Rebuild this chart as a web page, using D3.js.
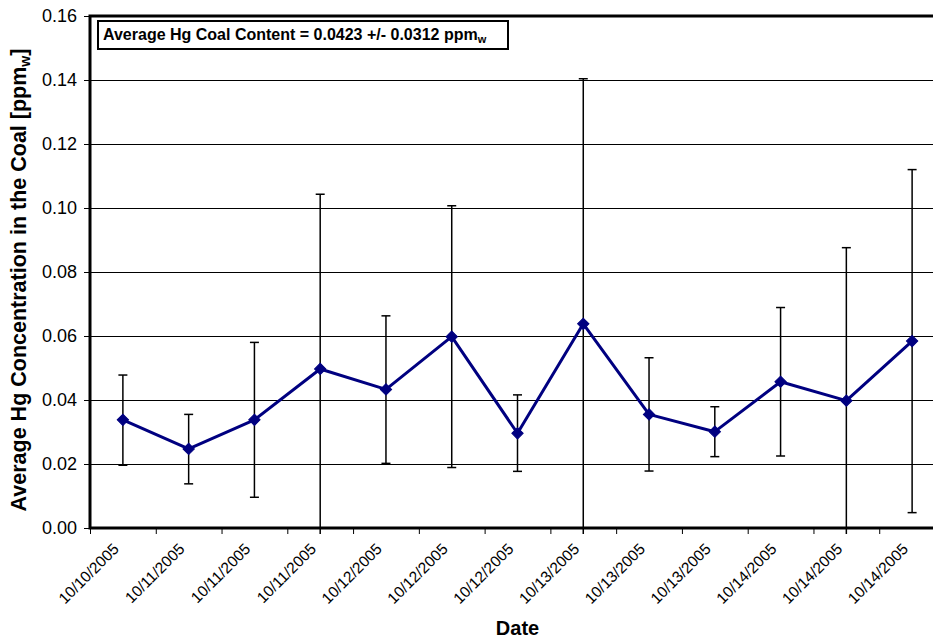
<!DOCTYPE html>
<html>
<head>
<meta charset="utf-8">
<script src="https://cdn.jsdelivr.net/npm/d3@7"></script>
<style>
  html, body { margin: 0; padding: 0; background: #fff; }
  svg { display: block; font-family: Arial, "Liberation Sans", sans-serif; }
</style>
</head>
<body>
<svg id="chart" width="933" height="639"></svg>
<script>
// ---- data ----
const dates = ["10/10/2005","10/11/2005","10/11/2005","10/11/2005","10/12/2005","10/12/2005","10/12/2005","10/13/2005","10/13/2005","10/13/2005","10/14/2005","10/14/2005","10/14/2005"];
const hgValues = [0.0338, 0.0247, 0.0338, 0.0497, 0.0433, 0.0598, 0.0296, 0.0638, 0.0355, 0.0301, 0.0457, 0.0398, 0.0584];
const errUpper = [0.0478, 0.0355, 0.0580, 0.1043, 0.0663, 0.1007, 0.0416, 0.1404, 0.0532, 0.0379, 0.0689, 0.0876, 0.1120];
const errLower = [0.0196, 0.0138, 0.0096, -0.0049, 0.0202, 0.0189, 0.0177, -0.0128, 0.0178, 0.0223, 0.0225, -0.0080, 0.0048];
const yTicks = [0, 0.02, 0.04, 0.06, 0.08, 0.10, 0.12, 0.14, 0.16];
const yLabel = "Average Hg Concentration in the Coal [ppm";
const xLabel = "Date";
const noteText = "Average Hg Coal Content = 0.0423 +/- 0.0312 ppm";

// ---- layout ----
const svg = d3.select("#chart");
const plot = { left: 90, top: 16, right: 945, bottom: 528 };
const n = dates.length;

const xLin = d3.scaleLinear().domain([0, n]).range([plot.left, plot.right]);
const y = d3.scaleLinear().domain([0, 0.16]).range([plot.bottom, plot.top]);

// clip for error bars (slightly below axis, as in reference)
svg.append("defs").append("clipPath").attr("id", "errclip")
  .append("rect").attr("x", plot.left).attr("y", plot.top)
  .attr("width", plot.right - plot.left).attr("height", plot.bottom - plot.top + 6);

// gridlines
svg.append("g").selectAll("line")
  .data(yTicks.filter(t => t > 0 && t < 0.16))
  .join("line")
  .attr("x1", plot.left).attr("x2", plot.right)
  .attr("y1", d => Math.round(y(d)) + 0.5).attr("y2", d => Math.round(y(d)) + 0.5)
  .attr("stroke", "#000").attr("stroke-width", 1);

// Y axis
const yAxis = d3.axisLeft(y).tickValues(yTicks).tickFormat(d3.format(".2f"))
  .tickSizeInner(6).tickSizeOuter(0).tickPadding(7);
const gy = svg.append("g").attr("transform", `translate(${plot.left},0)`).call(yAxis);
gy.select(".domain").remove();
gy.selectAll(".tick line").attr("stroke", "#000").attr("stroke-width", 1);
gy.selectAll(".tick text").attr("font-size", 18).attr("fill", "#000")
  .attr("font-family", "Arial, 'Liberation Sans', sans-serif");

// X axis (ticks at category boundaries)
const xAxis = d3.axisBottom(xLin).tickValues(d3.range(0, n + 1)).tickFormat("")
  .tickSizeInner(6).tickSizeOuter(0);
const gx = svg.append("g").attr("transform", `translate(0,${plot.bottom})`).call(xAxis);
gx.select(".domain").remove();
gx.selectAll(".tick line").attr("stroke", "#000").attr("stroke-width", 1);

// X tick labels, rotated
svg.append("g").selectAll("text")
  .data(dates)
  .join("text")
  .attr("transform", (d, i) => `translate(${xLin(i + 0.5) - 3},${plot.bottom + 22}) rotate(-45)`)
  .attr("text-anchor", "end")
  .attr("font-size", 15.5)
  .attr("fill", "#000")
  .text(d => d);

// plot border (thick)
svg.append("rect")
  .attr("x", plot.left).attr("y", plot.top)
  .attr("width", plot.right - plot.left).attr("height", plot.bottom - plot.top)
  .attr("fill", "none").attr("stroke", "#000").attr("stroke-width", 3);

// error bars
const eg = svg.append("g").attr("clip-path", "url(#errclip)");
const capW = 4.5;
hgValues.forEach((v, i) => {
  const cx = xLin(i + 0.5);
  eg.append("line").attr("x1", cx).attr("x2", cx)
    .attr("y1", y(errUpper[i])).attr("y2", y(errLower[i]))
    .attr("stroke", "#000").attr("stroke-width", 1.5);
  eg.append("line").attr("x1", cx - capW).attr("x2", cx + capW)
    .attr("y1", y(errUpper[i])).attr("y2", y(errUpper[i]))
    .attr("stroke", "#000").attr("stroke-width", 1.5);
  eg.append("line").attr("x1", cx - capW).attr("x2", cx + capW)
    .attr("y1", y(errLower[i])).attr("y2", y(errLower[i]))
    .attr("stroke", "#000").attr("stroke-width", 1.5);
});

// series line
const line = d3.line().x((d, i) => xLin(i + 0.5)).y(d => y(d));
svg.append("path").datum(hgValues)
  .attr("d", line).attr("fill", "none")
  .attr("stroke", "#000080").attr("stroke-width", 3).attr("stroke-linejoin", "round");

// diamond markers
svg.append("g").selectAll("path")
  .data(hgValues)
  .join("path")
  .attr("transform", (d, i) => `translate(${xLin(i + 0.5)},${y(d)}) rotate(45)`)
  .attr("d", d3.symbol().type(d3.symbolSquare).size(64))
  .attr("fill", "#000080").attr("stroke", "#000080").attr("stroke-width", 1);

// annotation box
const note = svg.append("g");
note.append("rect").attr("x", 98).attr("y", 21).attr("width", 410).attr("height", 28)
  .attr("fill", "#fff").attr("stroke", "#000").attr("stroke-width", 2);
const nt = note.append("text").attr("x", 103).attr("y", 40)
  .attr("font-size", 16).attr("font-weight", "bold").attr("fill", "#000");
nt.append("tspan").text(noteText);
nt.append("tspan").attr("dy", 3).attr("font-size", 11).text("w");

// axis titles
svg.append("text")
  .attr("x", (plot.left + plot.right) / 2).attr("y", 635)
  .attr("text-anchor", "middle").attr("font-size", 20).attr("font-weight", "bold")
  .attr("fill", "#000").text(xLabel);

const yt = svg.append("text")
  .attr("transform", `translate(26,280) rotate(-90)`)
  .attr("text-anchor", "middle").attr("font-size", 21.5).attr("font-weight", "bold")
  .attr("fill", "#000");
yt.append("tspan").text(yLabel);
yt.append("tspan").attr("dy", 4).attr("font-size", 14).text("w");
yt.append("tspan").attr("dy", -4).text("]");
</script>
</body>
</html>
